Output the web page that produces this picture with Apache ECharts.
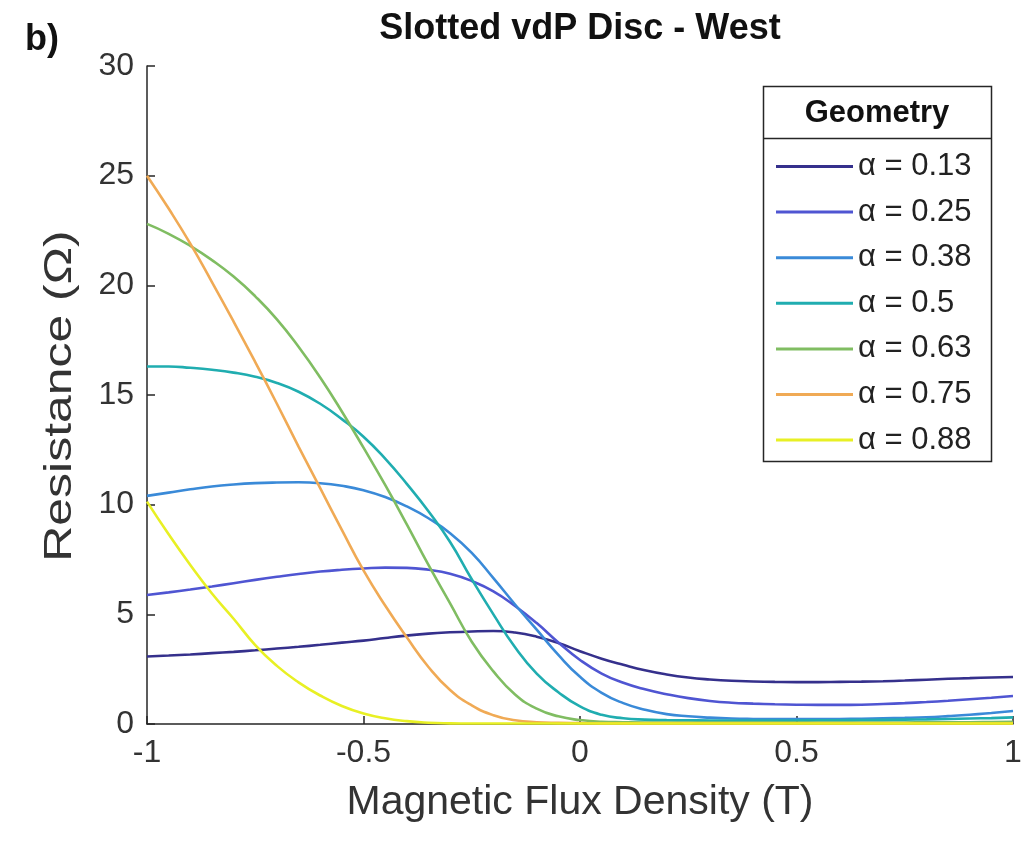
<!DOCTYPE html>
<html>
<head>
<meta charset="utf-8">
<script src="https://cdn.jsdelivr.net/npm/echarts@6/dist/echarts.min.js"></script>
<style>html,body{margin:0;padding:0;background:#fff}#c{width:1032px;height:853px}</style>
</head>
<body>
<div id="c"></div>
<script>
const FONT = '"Liberation Sans", Arial, Helvetica, sans-serif';
const xs = [-1,-0.95,-0.9,-0.85,-0.8,-0.75,-0.7,-0.65,-0.6,-0.55,-0.5,-0.45,-0.4,-0.35,-0.3,-0.25,-0.2,-0.15,-0.1,-0.05,0,0.05,0.1,0.15,0.2,0.25,0.3,0.35,0.4,0.45,0.5,0.55,0.6,0.65,0.7,0.75,0.8,0.85,0.9,0.95,1];
const seriesNames = ['α = 0.13','α = 0.25','α = 0.38','α = 0.5','α = 0.63','α = 0.75','α = 0.88'];
const a013 = [3.08,3.12,3.17,3.23,3.29,3.36,3.44,3.52,3.61,3.71,3.8,3.92,4.03,4.12,4.18,4.22,4.24,4.17,3.98,3.69,3.32,2.98,2.7,2.45,2.26,2.12,2.03,1.97,1.94,1.92,1.91,1.91,1.92,1.93,1.95,1.98,2.02,2.06,2.09,2.12,2.14];
const a025 = [5.88,6.0,6.13,6.27,6.42,6.57,6.71,6.84,6.95,7.03,7.09,7.13,7.12,7.03,6.85,6.52,6.05,5.38,4.6,3.72,2.92,2.3,1.88,1.58,1.36,1.18,1.05,0.97,0.93,0.9,0.88,0.87,0.87,0.88,0.91,0.95,1.0,1.06,1.13,1.2,1.28];
const a038 = [10.4,10.55,10.7,10.83,10.92,10.98,11.01,11.02,10.98,10.86,10.66,10.35,9.92,9.38,8.7,7.8,6.65,5.45,4.3,3.15,2.15,1.42,0.95,0.65,0.45,0.35,0.29,0.25,0.23,0.22,0.22,0.22,0.23,0.24,0.26,0.28,0.31,0.36,0.42,0.5,0.59];
const a050 = [16.3,16.3,16.24,16.15,16.02,15.83,15.55,15.15,14.6,13.9,13.1,12.1,10.95,9.7,8.3,6.6,5.0,3.5,2.3,1.45,0.8,0.42,0.26,0.2,0.18,0.17,0.16,0.16,0.16,0.16,0.16,0.17,0.17,0.18,0.19,0.2,0.21,0.23,0.25,0.27,0.3];
const a063 = [22.8,22.35,21.8,21.15,20.4,19.5,18.45,17.2,15.8,14.25,12.6,10.9,9.1,7.25,5.5,3.75,2.4,1.35,0.7,0.35,0.18,0.1,0.08,0.07,0.07,0.07,0.07,0.07,0.07,0.07,0.07,0.07,0.07,0.07,0.07,0.07,0.08,0.08,0.08,0.09,0.1];
const a075 = [25.0,23.5,21.9,20.15,18.35,16.5,14.6,12.65,10.75,8.85,7.0,5.4,3.95,2.6,1.55,0.85,0.4,0.17,0.08,0.05,0.04,0.03,0.03,0.03,0.03,0.03,0.03,0.03,0.03,0.03,0.03,0.03,0.03,0.03,0.03,0.03,0.03,0.03,0.03,0.03,0.03];
const a088 = [10.14,8.65,7.25,5.95,4.8,3.6,2.65,1.9,1.3,0.82,0.48,0.26,0.13,0.06,0.03,0.02,0.02,0.02,0.02,0.02,0.02,0.02,0.02,0.02,0.02,0.02,0.02,0.02,0.02,0.02,0.02,0.02,0.02,0.02,0.02,0.02,0.02,0.02,0.02,0.02,0.02];
const yTicks = [0,5,10,15,20,25,30];
const xTicks = [-1,-0.5,0,0.5,1];
const values = [a013,a025,a038,a050,a063,a075,a088];
const colors = ['#35308c','#4f55d2','#3a8ad8','#20adb0','#80bd62','#f0aa55','#e8f024'];

const chart = echarts.init(document.getElementById('c'), null, {renderer:'canvas'});
const series = values.map((v,i)=>({
  name: seriesNames[i],
  type: 'line',
  data: xs.map((x,j)=>[x, v[j]]),
  smooth: 0.5,
  symbol: 'none',
  lineStyle: {color: colors[i], width: 2.6},
  itemStyle: {color: colors[i]},
  animation: false,
  z: 2 + i
}));
chart.setOption({
  animation: false,
  backgroundColor: '#fff',
  textStyle: {fontFamily: FONT},
  grid: {left: 147, right: 19, top: 66, bottom: 129},
  xAxis: {
    type: 'value', min: xTicks[0], max: xTicks[xTicks.length-1], interval: 0.5,
    name: 'Magnetic Flux Density (T)', nameLocation: 'middle', nameGap: 58,
    nameTextStyle: {fontSize: 41, color: '#333', fontFamily: FONT},
    axisLine: {show: true, onZero: false, lineStyle: {color: '#262626', width: 1.5}},
    axisTick: {show: true, inside: true, length: 8, lineStyle: {color: '#262626', width: 1.5}},
    axisLabel: {fontSize: 32, color: '#333', margin: 13, fontFamily: FONT},
    splitLine: {show: false}
  },
  yAxis: {
    type: 'value', min: yTicks[0], max: yTicks[yTicks.length-1], interval: 5,
    axisLine: {show: true, onZero: false, lineStyle: {color: '#262626', width: 1.5}},
    axisTick: {show: true, inside: true, length: 8, lineStyle: {color: '#262626', width: 1.5}},
    axisLabel: {fontSize: 32, color: '#333', margin: 13, fontFamily: FONT},
    splitLine: {show: false}
  },
  legend: {
    orient: 'vertical', left: 771, top: 146,
    data: seriesNames,
    icon: 'rect',
    itemWidth: 77, itemHeight: 3, itemGap: 14.6,
    textStyle: {fontSize: 31, color: '#222', fontFamily: FONT},
    selectedMode: false
  },
  graphic: [
    {type: 'text', x: 25, y: 22, style: {text: 'b)', font: 'bold 36px ' + FONT, fill: '#111'}},
    {type: 'text', x: 580, y: 11, style: {text: 'Slotted vdP Disc - West', align: 'center', verticalAlign: 'top', font: 'bold 36px ' + FONT, fill: '#111'}},
    {type: 'text', x: 60, y: 396, rotation: Math.PI / 2, scaleX: 1.28, style: {text: 'Resistance (Ω)', align: 'center', verticalAlign: 'middle', font: '39px ' + FONT, fill: '#333'}},
    {type: 'rect', shape: {x: 763.5, y: 86.5, width: 228, height: 375}, style: {fill: 'rgba(0,0,0,0)', stroke: '#262626', lineWidth: 1.5}, z: 10},
    {type: 'line', shape: {x1: 763.5, y1: 138.5, x2: 991.5, y2: 138.5}, style: {stroke: '#262626', lineWidth: 1.5}, z: 10},
    {type: 'text', x: 877, y: 113, style: {text: 'Geometry', align: 'center', verticalAlign: 'middle', font: 'bold 31px ' + FONT, fill: '#111'}, z: 10}
  ],
  series: series
});
</script>
</body>
</html>
